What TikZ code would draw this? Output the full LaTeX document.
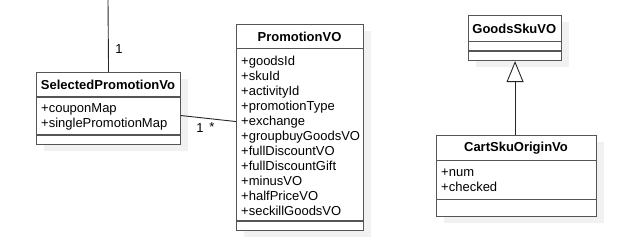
\documentclass[tikz,border=0pt]{standalone}
\usepackage{fontspec}
\setmainfont{Liberation Sans}
\usetikzlibrary{arrows.meta,shadows,calc}
\definecolor{boxc}{RGB}{85,85,85}
\definecolor{shadc}{RGB}{241,241,241}
\tikzset{
  classbox/.style={draw=boxc, line width=1.1pt, fill=white, anchor=north west, inner sep=0pt,
    drop shadow={shadow xshift=7pt, shadow yshift=-6pt, fill=shadc, opacity=1}},
  head/.style={font=\fontsize{13}{15}\selectfont\bfseries, inner sep=0pt},
  attr/.style={font=\fontsize{13}{15}\selectfont, inner sep=0pt, anchor=base west},
  lbl/.style={font=\fontsize{13}{15}\selectfont, inner sep=0pt},
  sepline/.style={draw=boxc, line width=1.1pt},
  conn/.style={draw=black!85, line width=0.9pt}
}
\begin{document}
\begin{tikzpicture}[x=1pt,y=-1pt]
\useasboundingbox (0,0) rectangle (639,245);

% SelectedPromotionVo
\node[classbox, minimum width=144pt, minimum height=72pt] (sel) at (36,72) {};
\node[head] (selh) at (108,84.5) {SelectedPromotionVo};
\draw[sepline] (sel.west |- 0,97) -- (sel.east |- 0,97);
\draw[sepline] (sel.west |- 0,135) -- (sel.east |- 0,135);
\node[attr] (sa1) at (41,113) {+couponMap};
\node[attr] (sa2) at (41,128) {+singlePromotionMap};

% PromotionVO
\node[classbox, minimum width=127pt, minimum height=206pt] (pvo) at (236,24) {};
\node[head] (pvoh) at (299.5,36.5) {PromotionVO};
\draw[sepline] (pvo.west |- 0,48.7) -- (pvo.east |- 0,48.7);
\draw[sepline] (pvo.west |- 0,221) -- (pvo.east |- 0,221);
\foreach \t [count=\i from 0] in {goodsId,skuId,activityId,promotionType,exchange,groupbuyGoodsVO,fullDiscountVO,fullDiscountGift,minusVO,halfPriceVO,seckillGoodsVO}{
  \node[attr] (pa\i) at (241,65.7+15*\i) {+\t};
}

% GoodsSkuVO
\node[classbox, minimum width=93pt, minimum height=44.7pt] (goods) at (468,15.3) {};
\node[head] (goodsh) at (514.3,28.5) {GoodsSkuVO};
\draw[sepline] (goods.west |- 0,41.3) -- (goods.east |- 0,41.3);
\draw[sepline] (goods.west |- 0,51) -- (goods.east |- 0,51);

% CartSkuOriginVo
\node[classbox, minimum width=160pt, minimum height=80.7pt] (cart) at (436,135.3) {};
\node[head] (carth) at (516,148) {CartSkuOriginVo};
\draw[sepline] (cart.west |- 0,160.7) -- (cart.east |- 0,160.7);
\draw[sepline] (cart.west |- 0,199.3) -- (cart.east |- 0,199.3);
\node[attr] (ca1) at (441,176.7) {+num};
\node[attr] (ca2) at (441,191.4) {+checked};

% connectors
\coordinate (topend) at (108,0);
\draw[conn] (sel.north) -- (topend);
\node[lbl] (l1) at (119,49) {1};

\draw[conn] ([yshift=-7pt]sel.east) -- ([yshift=6pt]pvo.west);
\node[lbl] (l2) at (200,128.5) {1};
\node[lbl] (l3) at (212,127) {*};

\draw[conn, -{Triangle[open, length=21pt, width=17pt, fill=white]}] (cart.north -| goods.south) -- (goods.south);
\end{tikzpicture}
\end{document}
